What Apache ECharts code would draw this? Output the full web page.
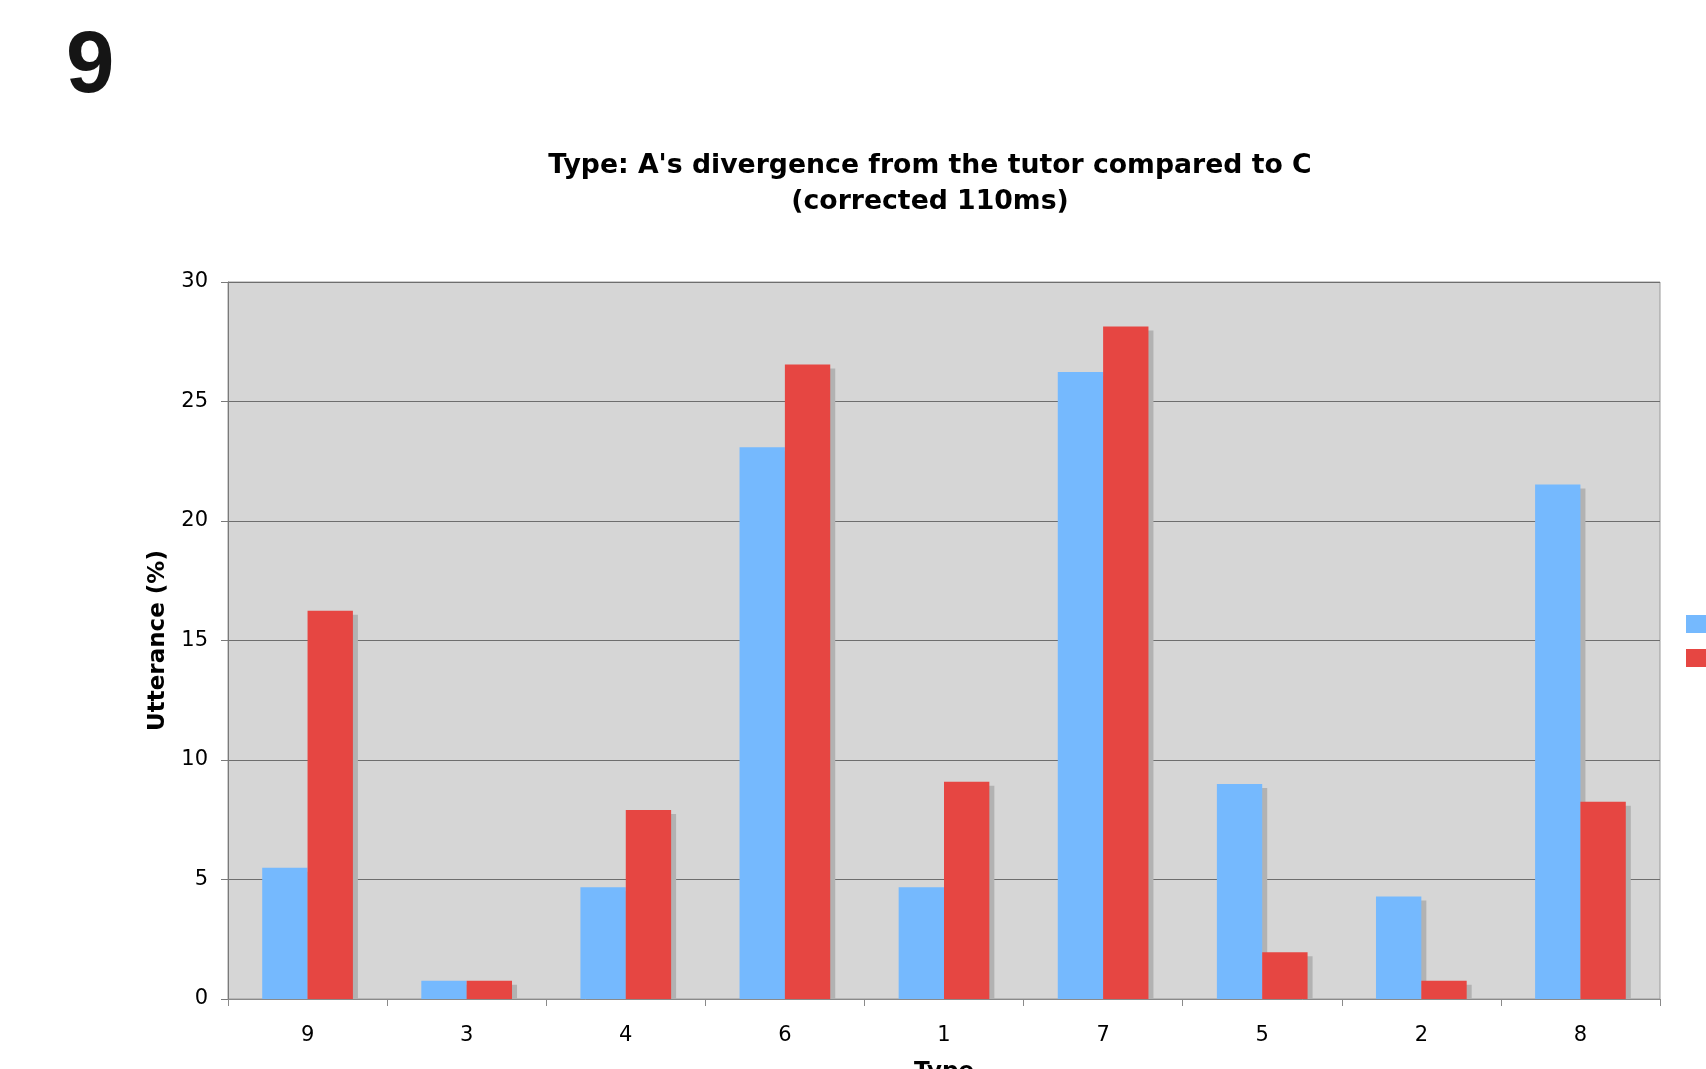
<!DOCTYPE html>
<html>
<head>
<meta charset="utf-8">
<title>Type: A's divergence from the tutor compared to C</title>
<script src="https://cdn.jsdelivr.net/npm/echarts@6/dist/echarts.min.js"></script>
<style>
  html, body { margin: 0; padding: 0; background: #ffffff; }
  #chart { width: 1706px; height: 1069px; }
</style>
</head>
<body>
<div id="chart"></div>
<script>
// Utterance types, in the order shown on the x axis
const types = ['9', '3', '4', '6', '1', '7', '5', '2', '8'];
// Share of utterances (%) per type
const seriesA = [5.49, 0.76, 4.68, 23.09, 4.68, 26.23, 9.0, 4.29, 21.53];
const seriesC = [16.24, 0.76, 7.91, 26.55, 9.09, 28.14, 1.96, 0.76, 8.25];
const seriesNames = ['A', 'C'];
const yTicks = { min: 0, max: 30, interval: 5 };

const FONT = 'DejaVu Sans';
const GRID = { left: 228, right: 46, top: 282, bottom: 70 };
const W = 1706, H = 1069;

const chart = echarts.init(document.getElementById('chart'), null, { renderer: 'canvas' });

// flat drop shadow to the lower right of each bar
const barShadow = {
  shadowColor: '#b2b2b2',
  shadowBlur: 0,
  shadowOffsetX: 5,
  shadowOffsetY: 4
};

chart.setOption({
  animation: false,
  backgroundColor: '#ffffff',
  graphic: [
    {
      type: 'text',
      left: 66,
      top: 25,
      style: {
        text: '9',
        font: 'bold 87px "Liberation Sans", Arial, sans-serif',
        fill: '#151515'
      }
    },
    {
      type: 'text',
      x: 930,
      y: 166,
      style: {
        text: "Type: A's divergence from the tutor compared to C",
        font: 'bold 26.7px "' + FONT + '"',
        fill: '#000000',
        align: 'center',
        verticalAlign: 'middle'
      }
    },
    {
      type: 'text',
      x: 930,
      y: 202,
      style: {
        text: '(corrected 110ms)',
        font: 'bold 26.7px "' + FONT + '"',
        fill: '#000000',
        align: 'center',
        verticalAlign: 'middle'
      }
    },
    {
      // keeps the bar shadows from spilling below the baseline
      type: 'rect',
      z: 5,
      silent: true,
      shape: { x: GRID.left, y: H - GRID.bottom + 0.5, width: W - GRID.left - GRID.right + 8, height: 10 },
      style: { fill: '#ffffff' }
    }
  ],
  legend: {
    orient: 'vertical',
    left: 1686,
    top: 615,
    padding: 0,
    itemWidth: 20,
    itemHeight: 18,
    itemGap: 16,
    icon: 'rect',
    textStyle: { fontFamily: FONT, fontSize: 14, color: '#000' },
    data: seriesNames
  },
  grid: {
    left: GRID.left,
    right: GRID.right,
    top: GRID.top,
    bottom: GRID.bottom,
    outerBoundsMode: 'none',
    containLabel: false,
    show: true,
    backgroundColor: '#d6d6d6',
    borderColor: '#9a9a9a',
    borderWidth: 1
  },
  xAxis: {
    type: 'category',
    data: types,
    z: 10,
    name: 'Type',
    nameLocation: 'middle',
    nameGap: 62,
    nameTextStyle: { fontFamily: FONT, fontSize: 23, fontWeight: 'bold', color: '#000' },
    axisLine: { show: true, lineStyle: { color: '#8a8a8a', width: 1 } },
    axisTick: { show: true, length: 7, alignWithLabel: false, lineStyle: { color: '#8a8a8a' } },
    axisLabel: { fontFamily: FONT, fontSize: 21, color: '#000', margin: 26 },
    splitLine: { show: false }
  },
  yAxis: {
    type: 'value',
    min: yTicks.min,
    max: yTicks.max,
    interval: yTicks.interval,
    name: 'Utterance (%)',
    nameLocation: 'middle',
    nameGap: 58,
    nameTextStyle: { fontFamily: FONT, fontSize: 23, fontWeight: 'bold', color: '#000' },
    axisLine: { show: true, lineStyle: { color: '#7a7a7a', width: 1 } },
    axisTick: { show: true, length: 7, lineStyle: { color: '#7a7a7a' } },
    axisLabel: { fontFamily: FONT, fontSize: 21, color: '#000', margin: 20, padding: [4, 0, 0, 0] },
    splitLine: { show: true, lineStyle: { color: '#6e6e6e', width: 1 } }
  },
  series: [
    {
      name: seriesNames[0],
      type: 'bar',
      data: seriesA,
      barGap: '0%',
      barCategoryGap: '43%',
      itemStyle: Object.assign({ color: '#75b9fe' }, barShadow)
    },
    {
      name: seriesNames[1],
      type: 'bar',
      data: seriesC,
      barGap: '0%',
      barCategoryGap: '43%',
      itemStyle: Object.assign({ color: '#e64642' }, barShadow)
    }
  ]
});
</script>
</body>
</html>
